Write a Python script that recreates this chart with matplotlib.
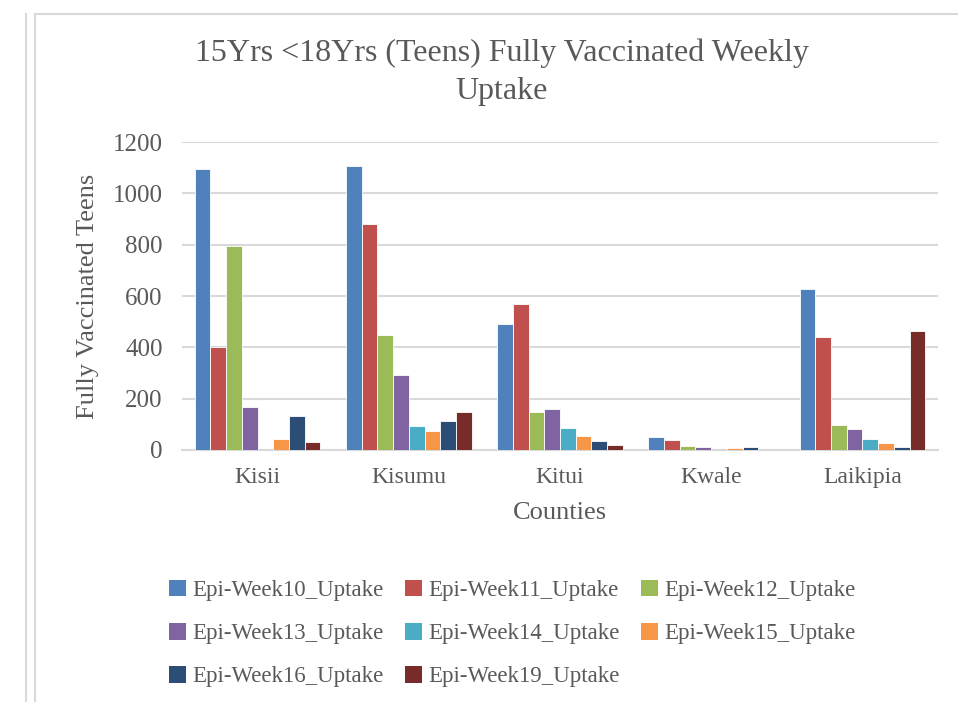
import matplotlib
matplotlib.use("Agg")
import matplotlib.pyplot as plt
import numpy as np
from matplotlib.lines import Line2D
from matplotlib.patches import Rectangle

counties = ["Kisii", "Kisumu", "Kitui", "Kwale", "Laikipia"]
series_names = ["Epi-Week10_Uptake", "Epi-Week11_Uptake", "Epi-Week12_Uptake",
                "Epi-Week13_Uptake", "Epi-Week14_Uptake", "Epi-Week15_Uptake",
                "Epi-Week16_Uptake", "Epi-Week19_Uptake"]
week10 = [1093, 1107, 489, 49, 626]
week11 = [400, 882, 567, 40, 442]
week12 = [796, 449, 150, 15, 99]
week13 = [168, 292, 161, 10, 83]
week14 = [0, 94, 85, 1, 41]
week15 = [44, 74, 54, 6, 29]
week16 = [131, 114, 34, 10, 11]
week19 = [32, 149, 19, 0, 465]
series = [week10, week11, week12, week13, week14, week15, week16, week19]
colors = ["#4F81BD", "#C0504D", "#9BBB59", "#8064A2", "#4BACC6", "#F79646", "#2C4D75", "#772C2A"]
yticks = [0, 200, 400, 600, 800, 1000, 1200]

plt.rcParams['font.family'] = ['Liberation Serif', 'DejaVu Serif']
txt = "#595959"

fig = plt.figure(figsize=(9.58, 7.02), dpi=100)
ax = fig.add_axes([182/958, 1-450/702, (938-182)/958, (450-142)/702])

x = np.arange(len(counties))
slot = 0.104
for i, (vals, c) in enumerate(zip(series, colors)):
    offs = (i - 3.5) * slot
    ax.bar(x + offs, vals, width=slot, color=c, edgecolor="white", linewidth=0.6, zorder=3)

ax.set_xlim(-0.5, len(counties) - 0.5)
ax.set_ylim(0, 1200)
ax.set_yticks(yticks)
ax.set_yticklabels([str(v) for v in yticks], fontsize=18, color=txt)
ax.set_xticks(x)
ax.set_xticklabels(counties, fontsize=17, color=txt)
ax.tick_params(axis='both', length=0)
ax.tick_params(axis='x', pad=12)
ax.tick_params(axis='y', pad=14)
ax.grid(axis='y', color="#D9D9D9", linewidth=1.5, zorder=0)
for s in ["top", "right", "left"]:
    ax.spines[s].set_visible(False)
ax.spines["bottom"].set_color("#D9D9D9")
ax.spines["bottom"].set_linewidth(1.5)

ax.set_ylabel("Fully Vaccinated Teens", fontsize=19, color=txt, labelpad=10)
ax.set_xlabel("Counties", fontsize=19, color=txt, labelpad=10)

fig.text(502/958, 1-53/702, "15Yrs <18Yrs (Teens) Fully Vaccinated Weekly", ha="center", va="center",
         fontsize=23, color=txt)
fig.text(502/958, 1-92/702, "Uptake", ha="center", va="center", fontsize=23, color=txt)

# legend laid out row by row (matplotlib fills column-wise)
order = [0, 3, 6, 1, 4, 7, 2, 5]
handles = [Rectangle((0, 0), 1, 1, facecolor=colors[k], edgecolor="none") for k in order]
labels = [series_names[k] for k in order]
fig.legend(handles, labels, loc="upper left", bbox_to_anchor=(148/958, 1-559/702), ncol=3,
           frameon=False, fontsize=16.5, handlelength=0.75, handleheight=0.75, handletextpad=0.3,
           columnspacing=0.9, labelspacing=0.95, labelcolor=txt)

# frame lines
fig.add_artist(Line2D([26/958, 26/958], [0, 1-14/702], transform=fig.transFigure, color="#D9D9D9", lw=1.5))
fig.add_artist(Line2D([35/958, 35/958], [0, 1-14/702], transform=fig.transFigure, color="#D9D9D9", lw=1.5))
fig.add_artist(Line2D([35/958, 1], [1-14/702, 1-14/702], transform=fig.transFigure, color="#D9D9D9", lw=1.5))

fig.savefig("out.png", dpi=100)
